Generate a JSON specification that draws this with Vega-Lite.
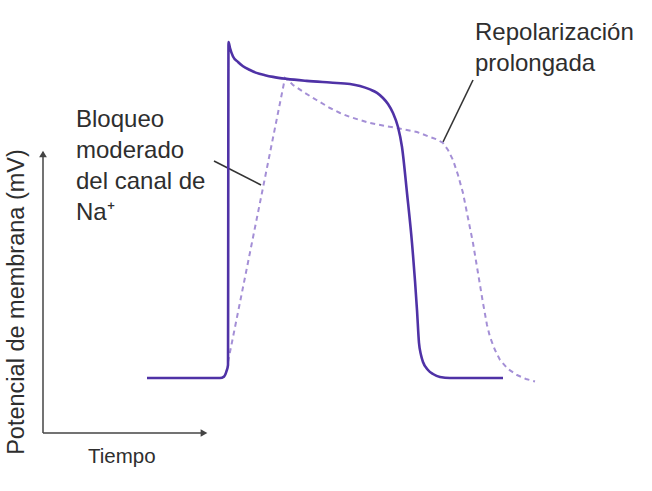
{
  "$schema": "https://vega.github.io/schema/vega-lite/v6.json",
  "width": 652,
  "height": 491,
  "autosize": {"type": "none"},
  "padding": 0,
  "background": "white",
  "config": {"view": {"stroke": null}},
  "datasets": {
    "normal": [
      {"i":1,"t":208,"v":-85},{"i":2,"t":354,"v":-85},{"i":3,"t":362,"v":-84.5},{"i":4,"t":367,"v":-82.6},{"i":5,"t":370,"v":-80.5},
      {"i":6,"t":371,"v":32.6},{"i":7,"t":374,"v":30.5},{"i":8,"t":380,"v":27.5},{"i":9,"t":390,"v":25.6},{"i":10,"t":400,"v":24.1},
      {"i":11,"t":414,"v":22.8},{"i":12,"t":427,"v":21.8},{"i":13,"t":444,"v":21.0},{"i":14,"t":460,"v":20.4},{"i":15,"t":487,"v":19.7},
      {"i":16,"t":527,"v":19.0},{"i":17,"t":574,"v":18.4},{"i":18,"t":614,"v":17.9},{"i":19,"t":634,"v":17.2},{"i":20,"t":654,"v":16.0},
      {"i":21,"t":668,"v":14.8},{"i":22,"t":680,"v":13.0},{"i":23,"t":690,"v":10.9},{"i":24,"t":700,"v":7.75},{"i":25,"t":710,"v":2.85},
      {"i":26,"t":718,"v":-4.15},{"i":27,"t":728,"v":-20.25},{"i":28,"t":738,"v":-37.75},{"i":29,"t":748,"v":-61.2},{"i":30,"t":752,"v":-72.75},
      {"i":31,"t":756,"v":-76.95},{"i":32,"t":760,"v":-79.4},{"i":33,"t":770,"v":-82.2},{"i":34,"t":780,"v":-83.6},{"i":35,"t":794,"v":-84.65},
      {"i":36,"t":814,"v":-85},{"i":37,"t":920,"v":-85}
    ],
    "blocked": [
      {"i":1,"t":370,"v":-79.4},{"i":2,"t":484,"v":20.0},{"i":3,"t":492,"v":18.95},{"i":4,"t":500,"v":17.55},{"i":5,"t":524,"v":14.75},
      {"i":6,"t":547,"v":12.3},{"i":7,"t":574,"v":9.5},{"i":8,"t":594,"v":7.75},{"i":9,"t":614,"v":6.35},{"i":10,"t":654,"v":4.25},
      {"i":11,"t":684,"v":3.2},{"i":12,"t":708,"v":2.5},{"i":13,"t":748,"v":1.1},{"i":14,"t":774,"v":-0.65},{"i":15,"t":788,"v":-1.5},
      {"i":16,"t":800,"v":-2.75},{"i":17,"t":810,"v":-5.2},{"i":18,"t":820,"v":-8.7},{"i":19,"t":830,"v":-13.95},{"i":20,"t":840,"v":-20.25},
      {"i":21,"t":850,"v":-29},{"i":22,"t":860,"v":-37.75},{"i":23,"t":870,"v":-48.25},{"i":24,"t":880,"v":-58.75},{"i":25,"t":888,"v":-66.45},
      {"i":26,"t":894,"v":-70.65},{"i":27,"t":904,"v":-75.2},{"i":28,"t":914,"v":-78.7},{"i":29,"t":930,"v":-81.85},{"i":30,"t":948,"v":-83.95},
      {"i":31,"t":966,"v":-85.35},{"i":32,"t":984,"v":-86.2}
    ]
  },
  "layer": [
    {
      "data": {"values": [
        {"t":0,"v":-104.25,"t2":0,"v2":-6},
        {"t":0,"v":-104.25,"t2":318,"v2":-104.25}
      ]},
      "mark": {"type": "rule", "color": "#444444", "strokeWidth": 1.5},
      "encoding": {
        "x": {"field": "t", "type": "quantitative", "scale": {"domain": [-86, 1218], "nice": false, "zero": false}, "axis": null},
        "y": {"field": "v", "type": "quantitative", "scale": {"domain": [-124.55, 47.3], "nice": false, "zero": false}, "axis": null},
        "x2": {"field": "t2"},
        "y2": {"field": "v2"}
      }
    },
    {
      "data": {"values": [{"t":0,"v":-6.6}]},
      "mark": {"type": "point", "shape": "triangle-up", "filled": true, "color": "#444444", "size": 60, "opacity": 1},
      "encoding": {
        "x": {"field": "t", "type": "quantitative"},
        "y": {"field": "v", "type": "quantitative"}
      }
    },
    {
      "data": {"values": [{"t":322,"v":-104.25}]},
      "mark": {"type": "point", "shape": "triangle-right", "filled": true, "color": "#444444", "size": 60, "opacity": 1},
      "encoding": {
        "x": {"field": "t", "type": "quantitative"},
        "y": {"field": "v", "type": "quantitative"}
      }
    },
    {
      "data": {"values": [
        {"t":342,"v":-9.05,"t2":436,"v2":-17.45},
        {"t":860,"v":19.3,"t2":800,"v2":-2.4}
      ]},
      "mark": {"type": "rule", "color": "#333333", "strokeWidth": 1.6},
      "encoding": {
        "x": {"field": "t", "type": "quantitative"},
        "y": {"field": "v", "type": "quantitative"},
        "x2": {"field": "t2"},
        "y2": {"field": "v2"}
      }
    },
    {
      "data": {"name": "blocked"},
      "mark": {"type": "line", "color": "#a48fd6", "strokeWidth": 2, "strokeDash": [5, 4], "interpolate": "linear"},
      "encoding": {
        "x": {"field": "t", "type": "quantitative"},
        "y": {"field": "v", "type": "quantitative"},
        "order": {"field": "i", "type": "quantitative"}
      }
    },
    {
      "data": {"name": "normal"},
      "mark": {"type": "line", "color": "#4f32a6", "strokeWidth": 2.6, "interpolate": "monotone"},
      "encoding": {
        "x": {"field": "t", "type": "quantitative"},
        "y": {"field": "v", "type": "quantitative"},
        "order": {"field": "i", "type": "quantitative"}
      }
    },
    {
      "data": {"values": [
        {"t":66,"v":2.85,"label":["Bloqueo","moderado","del canal de","Na⁺"]},
        {"t":864,"v":33.3,"label":["Repolarización","prolongada"]}
      ]},
      "mark": {"type": "text", "align": "left", "baseline": "alphabetic", "font": "Liberation Sans, Arial, Helvetica, sans-serif", "fontSize": 24, "lineHeight": 31, "color": "#2e2e2e"},
      "encoding": {
        "x": {"field": "t", "type": "quantitative"},
        "y": {"field": "v", "type": "quantitative"},
        "text": {"field": "label"}
      }
    },
    {
      "data": {"values": [{"t":90,"v":-114.75,"label":"Tiempo"}]},
      "mark": {"type": "text", "align": "left", "baseline": "alphabetic", "font": "Liberation Sans, Arial, Helvetica, sans-serif", "fontSize": 20.5, "color": "#2e2e2e"},
      "encoding": {
        "x": {"field": "t", "type": "quantitative"},
        "y": {"field": "v", "type": "quantitative"},
        "text": {"field": "label"}
      }
    },
    {
      "data": {"values": [{"t":-52,"v":-58.4,"label":"Potencial de membrana (mV)"}]},
      "mark": {"type": "text", "align": "center", "baseline": "middle", "angle": 270, "font": "Liberation Sans, Arial, Helvetica, sans-serif", "fontSize": 23.5, "color": "#2e2e2e"},
      "encoding": {
        "x": {"field": "t", "type": "quantitative"},
        "y": {"field": "v", "type": "quantitative"},
        "text": {"field": "label"}
      }
    }
  ]
}
